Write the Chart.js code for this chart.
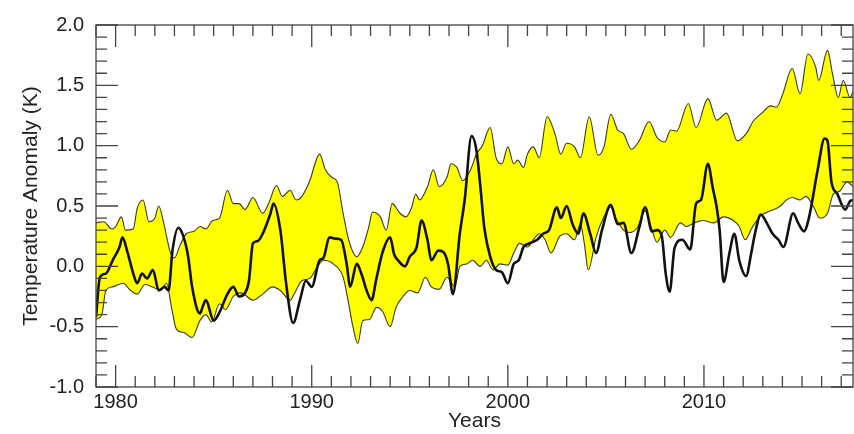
<!DOCTYPE html>
<html>
<head>
<meta charset="utf-8">
<script src="https://cdn.jsdelivr.net/npm/chart.js@4/dist/chart.umd.min.js"></script>
<style>
  html, body { margin: 0; padding: 0; background: #fff; }
  #wrap { width: 854px; height: 434px; }
</style>
</head>
<body>
<div id="wrap"><canvas id="anomalyChart"></canvas></div>
<script>
// upper edge of the model range (yellow band)
const upperYears = [1979.0, 1979.4, 1979.8, 1980.0, 1980.3, 1980.5, 1980.9, 1981.1, 1981.4, 1981.7, 1982.0, 1982.2, 1982.45, 1982.8, 1983.0, 1983.3, 1983.6, 1984.0, 1984.3, 1984.6, 1984.95, 1985.3, 1985.7, 1986.0, 1986.3, 1986.6, 1987.0, 1987.5, 1987.8, 1988.2, 1988.5, 1988.9, 1989.2, 1989.5, 1989.9, 1990.4, 1990.7, 1991.0, 1991.3, 1991.6, 1991.9, 1992.3, 1992.6, 1992.9, 1993.1, 1993.5, 1993.8, 1994.1, 1994.5, 1994.8, 1995.1, 1995.3, 1995.5, 1995.9, 1996.2, 1996.5, 1996.9, 1997.1, 1997.4, 1997.7, 1998.1, 1998.4, 1998.7, 1999.1, 1999.4, 1999.7, 2000.0, 2000.3, 2000.5, 2000.8, 2001.0, 2001.3, 2001.6, 2002.0, 2002.4, 2002.7, 2003.0, 2003.4, 2003.7, 2004.15, 2004.6, 2004.9, 2005.25, 2005.6, 2005.9, 2006.3, 2006.7, 2007.2, 2007.6, 2008.0, 2008.3, 2008.6, 2009.2, 2009.6, 2010.2, 2010.65, 2011.15, 2011.7, 2012.2, 2012.5, 2012.95, 2013.4, 2013.7, 2014.0, 2014.5, 2014.9, 2015.3, 2015.7, 2015.85, 2016.3, 2016.55, 2016.85, 2017.1, 2017.45, 2017.6];
const upperVals  = [0.36, 0.37, 0.31, 0.33, 0.41, 0.30, 0.31, 0.48, 0.55, 0.37, 0.40, 0.50, 0.36, 0.11, 0.07, 0.18, 0.27, 0.29, 0.33, 0.31, 0.38, 0.40, 0.63, 0.52, 0.52, 0.47, 0.57, 0.44, 0.52, 0.67, 0.58, 0.63, 0.55, 0.58, 0.71, 0.93, 0.80, 0.74, 0.70, 0.44, 0.21, 0.08, 0.16, 0.32, 0.45, 0.41, 0.30, 0.52, 0.44, 0.41, 0.49, 0.60, 0.55, 0.66, 0.80, 0.66, 0.74, 0.85, 0.82, 0.71, 0.80, 0.93, 1.00, 1.15, 0.90, 0.85, 0.99, 0.85, 0.88, 0.82, 0.93, 0.99, 0.90, 1.24, 1.10, 0.93, 1.02, 0.99, 0.90, 1.24, 0.92, 0.99, 1.26, 1.13, 1.10, 0.97, 1.04, 1.20, 1.07, 1.03, 1.13, 1.12, 1.35, 1.15, 1.39, 1.21, 1.27, 1.04, 1.11, 1.20, 1.27, 1.33, 1.32, 1.42, 1.64, 1.43, 1.76, 1.65, 1.54, 1.79, 1.60, 1.40, 1.54, 1.40, 1.45];

// lower edge of the model range
const lowerYears = [1979.0, 1979.3, 1979.5, 1979.85, 1980.4, 1980.7, 1981.1, 1981.5, 1982.0, 1982.3, 1982.6, 1982.85, 1983.1, 1983.5, 1983.9, 1984.3, 1984.6, 1984.9, 1985.3, 1985.6, 1986.0, 1986.4, 1987.0, 1987.5, 1988.0, 1988.4, 1988.9, 1989.1, 1989.5, 1989.9, 1990.3, 1990.6, 1991.1, 1991.6, 1991.85, 1992.1, 1992.35, 1992.6, 1992.95, 1993.3, 1993.6, 1994.0, 1994.3, 1994.65, 1995.0, 1995.4, 1995.8, 1996.1, 1996.5, 1996.9, 1997.3, 1997.55, 1997.9, 1998.2, 1998.6, 1998.9, 1999.25, 1999.6, 2000.0, 2000.3, 2000.6, 2001.0, 2001.3, 2001.6, 2001.9, 2002.2, 2002.65, 2003.0, 2003.4, 2003.7, 2003.9, 2004.1, 2004.5, 2004.9, 2005.25, 2005.5, 2005.9, 2006.2, 2006.6, 2007.0, 2007.3, 2007.6, 2008.0, 2008.3, 2008.8, 2009.1, 2009.5, 2009.95, 2010.5, 2011.0, 2011.5, 2011.8, 2012.1, 2012.45, 2012.9, 2013.4, 2013.9, 2014.2, 2014.5, 2014.9, 2015.2, 2015.6, 2015.9, 2016.3, 2016.6, 2016.9, 2017.3, 2017.6];
const lowerVals  = [-0.44, -0.40, -0.20, -0.17, -0.14, -0.19, -0.23, -0.15, -0.18, -0.20, -0.14, -0.34, -0.52, -0.55, -0.59, -0.45, -0.40, -0.46, -0.31, -0.36, -0.25, -0.22, -0.28, -0.23, -0.17, -0.20, -0.28, -0.23, -0.12, -0.10, 0.00, 0.05, 0.02, -0.09, -0.28, -0.50, -0.64, -0.45, -0.44, -0.34, -0.37, -0.50, -0.34, -0.25, -0.20, -0.22, -0.09, -0.17, -0.19, -0.09, -0.17, 0.00, 0.02, 0.05, 0.00, 0.05, -0.03, 0.02, 0.01, 0.11, 0.19, 0.16, 0.22, 0.27, 0.22, 0.11, 0.25, 0.27, 0.22, 0.35, 0.19, -0.03, 0.24, 0.41, 0.49, 0.40, 0.30, 0.28, 0.32, 0.46, 0.33, 0.20, 0.30, 0.24, 0.36, 0.33, 0.36, 0.38, 0.36, 0.41, 0.38, 0.33, 0.22, 0.32, 0.42, 0.46, 0.50, 0.55, 0.57, 0.55, 0.58, 0.49, 0.40, 0.44, 0.60, 0.62, 0.70, 0.66];

// observed anomaly (black line)
const obsYears = [1979.0, 1979.2, 1979.5, 1979.85, 1980.2, 1980.35, 1980.6, 1980.9, 1981.1, 1981.35, 1981.6, 1981.9, 1982.2, 1982.5, 1982.7, 1982.9, 1983.2, 1983.45, 1983.7, 1983.9, 1984.3, 1984.45, 1984.6, 1985.0, 1985.3, 1985.7, 1986.0, 1986.3, 1986.6, 1986.8, 1987.0, 1987.25, 1987.5, 1987.9, 1988.05, 1988.4, 1988.7, 1989.05, 1989.4, 1989.7, 1990.0, 1990.4, 1990.6, 1990.9, 1991.2, 1991.5, 1991.8, 1991.95, 1992.3, 1992.55, 1992.8, 1993.05, 1993.3, 1993.6, 1994.0, 1994.2, 1994.4, 1994.75, 1995.0, 1995.35, 1995.6, 1995.9, 1996.1, 1996.45, 1996.7, 1996.95, 1997.2, 1997.55, 1997.8, 1998.15, 1998.4, 1998.6, 1998.8, 1999.1, 1999.4, 1999.7, 2000.0, 2000.3, 2000.55, 2000.8, 2001.1, 2001.5, 2001.8, 2002.1, 2002.5, 2002.7, 2003.0, 2003.3, 2003.6, 2003.85, 2004.2, 2004.5, 2004.8, 2005.25, 2005.6, 2005.9, 2006.3, 2006.7, 2007.0, 2007.35, 2007.6, 2007.85, 2008.05, 2008.25, 2008.5, 2008.9, 2009.3, 2009.6, 2009.85, 2010.2, 2010.45, 2010.65, 2010.8, 2011.0, 2011.3, 2011.55, 2011.8, 2012.15, 2012.4, 2012.6, 2012.9, 2013.2, 2013.5, 2013.8, 2014.05, 2014.55, 2014.8, 2015.1, 2015.35, 2015.8, 2016.15, 2016.3, 2016.5, 2016.8, 2017.2, 2017.45, 2017.6];
const obsVals  = [-0.42, -0.09, -0.06, 0.05, 0.16, 0.24, 0.12, -0.06, -0.14, -0.06, -0.10, -0.03, -0.20, -0.17, -0.20, 0.13, 0.32, 0.25, 0.08, -0.17, -0.39, -0.33, -0.28, -0.45, -0.38, -0.23, -0.17, -0.25, -0.22, -0.12, 0.19, 0.21, 0.27, 0.44, 0.52, 0.30, -0.15, -0.47, -0.28, -0.12, -0.17, 0.05, 0.07, 0.24, 0.23, 0.22, 0.00, -0.17, 0.02, -0.07, -0.20, -0.28, -0.10, 0.11, 0.24, 0.10, 0.05, 0.00, 0.08, 0.16, 0.38, 0.22, 0.05, 0.13, 0.12, 0.02, -0.23, 0.27, 0.55, 1.08, 0.96, 0.66, 0.32, 0.08, -0.03, -0.05, -0.14, 0.02, 0.05, 0.16, 0.19, 0.22, 0.27, 0.30, 0.49, 0.40, 0.50, 0.35, 0.27, 0.44, 0.27, 0.11, 0.30, 0.51, 0.35, 0.36, 0.11, 0.32, 0.49, 0.29, 0.30, 0.25, -0.06, -0.21, 0.15, 0.22, 0.14, 0.52, 0.55, 0.85, 0.65, 0.49, 0.30, -0.13, 0.11, 0.27, 0.05, -0.08, 0.10, 0.27, 0.43, 0.36, 0.27, 0.22, 0.16, 0.44, 0.36, 0.29, 0.40, 0.80, 1.06, 1.04, 0.70, 0.60, 0.47, 0.54, 0.55];

// axis labels
const xLabelYears = [1980, 1990, 2000, 2010];
const yLabelVals = [-1.0, -0.5, 0.0, 0.5, 1.0, 1.5, 2.0];
const xMin = 1979, xMax = 2017.6, yMin = -1.0, yMax = 2.0;

const toPoints = (xs, ys) => xs.map((x, i) => ({ x: x, y: ys[i] }));

// IDL style box with inward ticks on all four sides
const tickBox = {
  id: 'tickBox',
  afterDatasetsDraw(chart) {
    const { ctx, chartArea: a, scales: { x, y } } = chart;
    ctx.save();
    ctx.strokeStyle = '#444';
    ctx.lineWidth = 1.3;
    ctx.strokeRect(a.left, a.top, a.right - a.left, a.bottom - a.top);
    ctx.beginPath();
    for (let yr = Math.ceil(xMin); yr <= xMax; yr++) {
      const px = x.getPixelForValue(yr);
      const len = xLabelYears.includes(yr) ? 22 : 11;
      ctx.moveTo(px, a.bottom); ctx.lineTo(px, a.bottom - len);
      ctx.moveTo(px, a.top); ctx.lineTo(px, a.top + len);
    }
    for (let i = -10; i <= 20; i++) {
      const py = y.getPixelForValue(i / 10);
      const len = i % 5 === 0 ? 22 : 11;
      ctx.moveTo(a.left, py); ctx.lineTo(a.left + len, py);
      ctx.moveTo(a.right, py); ctx.lineTo(a.right - len, py);
    }
    ctx.stroke();
    ctx.restore();
  }
};

const tickFont = { family: 'Liberation Sans, Arial, sans-serif', size: 20 };
const titleFont = { family: 'Liberation Sans, Arial, sans-serif', size: 21 };

new Chart(document.getElementById('anomalyChart'), {
  type: 'line',
  data: {
    datasets: [
      {
        label: 'Observed',
        data: toPoints(obsYears, obsVals),
        borderColor: '#111',
        borderWidth: 2.6,
        pointRadius: 0,
        cubicInterpolationMode: 'monotone',
        fill: false
      },
      {
        label: 'Upper',
        data: toPoints(upperYears, upperVals),
        borderColor: '#3a3a1a',
        borderWidth: 1.1,
        pointRadius: 0,
        cubicInterpolationMode: 'monotone',
        backgroundColor: 'rgb(255, 255, 0)',
        fill: '+1'
      },
      {
        label: 'Lower',
        data: toPoints(lowerYears, lowerVals),
        borderColor: '#3a3a1a',
        borderWidth: 1.1,
        pointRadius: 0,
        cubicInterpolationMode: 'monotone',
        fill: false
      }
    ]
  },
  options: {
    responsive: true,
    maintainAspectRatio: false,
    animation: false,
    layout: { padding: { top: 25, right: 1, left: 0, bottom: 0 } },
    plugins: {
      legend: { display: false },
      tooltip: { enabled: false },
      filler: { drawTime: 'beforeDatasetsDraw' }
    },
    scales: {
      x: {
        type: 'linear',
        min: xMin,
        max: xMax,
        grid: { display: false, drawTicks: false },
        border: { display: false },
        afterBuildTicks: s => { s.ticks = xLabelYears.map(v => ({ value: v })); },
        afterFit: s => { s.height = 47; },
        ticks: {
          autoSkip: false,
          maxRotation: 0,
          padding: 3,
          color: '#222',
          font: tickFont,
          callback: v => String(v)
        },
        title: {
          display: true,
          text: 'Years',
          color: '#222',
          font: titleFont,
          padding: { top: 0, bottom: 0 }
        }
      },
      y: {
        min: yMin,
        max: yMax,
        grid: { display: false, drawTicks: false },
        border: { display: false },
        afterBuildTicks: s => { s.ticks = yLabelVals.map(v => ({ value: v })); },
        afterFit: s => { s.width = 96; },
        ticks: {
          padding: 12,
          color: '#222',
          font: tickFont,
          callback: v => Number(v).toFixed(1)
        },
        title: {
          display: true,
          text: 'Temperature Anomaly (K)',
          color: '#222',
          font: titleFont,
          padding: { top: 19, bottom: 0 }
        }
      }
    }
  },
  plugins: [tickBox]
});
</script>
</body>
</html>
